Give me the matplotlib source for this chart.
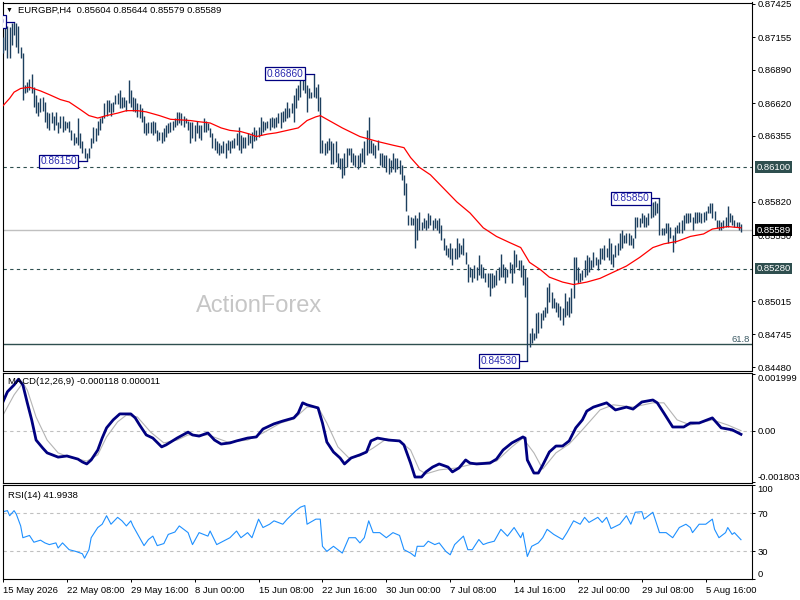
import matplotlib
matplotlib.use('Agg')
import matplotlib.pyplot as plt
import numpy as np

plt.rcParams['font.family'] = ['Liberation Sans', 'DejaVu Sans']

# ---- price bars (H4) ----
highs = [
    0.8716, 0.8723, 0.8725, 0.8724, 0.8727, 0.8728, 0.8727, 0.8725, 0.8708, 0.8703,
    0.8677, 0.8679, 0.8682, 0.8686, 0.8675, 0.8669, 0.8663, 0.8666, 0.8667, 0.8663,
    0.8655, 0.8654, 0.8655, 0.8652, 0.8655, 0.8647, 0.8652, 0.8652, 0.8648, 0.8647,
    0.8648, 0.8640, 0.8638, 0.8635, 0.8650, 0.8638, 0.8631, 0.8626, 0.8622, 0.8626,
    0.8634, 0.8643, 0.8642, 0.8648, 0.8650, 0.8652, 0.8662, 0.8665, 0.8665, 0.8662,
    0.8663, 0.8669, 0.8670, 0.8673, 0.8667, 0.8667, 0.8665, 0.8681, 0.8673, 0.8667,
    0.8666, 0.8662, 0.8661, 0.8658, 0.8652, 0.8646, 0.8647, 0.8647, 0.8648, 0.8647,
    0.8640, 0.8639, 0.8639, 0.8642, 0.8644, 0.8646, 0.8647, 0.8648, 0.8650, 0.8655,
    0.8655, 0.8654, 0.8652, 0.8650, 0.8648, 0.8647, 0.8647, 0.8644, 0.8648, 0.8644,
    0.8644, 0.8650, 0.8648, 0.8646, 0.8642, 0.8638, 0.8634, 0.8631, 0.8630, 0.8628,
    0.8631, 0.8630, 0.8632, 0.8631, 0.8632, 0.8634, 0.8638, 0.8643, 0.8636, 0.8635,
    0.8635, 0.8638, 0.8636, 0.8639, 0.8643, 0.8640, 0.8643, 0.8651, 0.8648, 0.8647,
    0.8648, 0.8650, 0.8651, 0.8650, 0.8651, 0.8654, 0.8655, 0.8656, 0.8658, 0.8663,
    0.8658, 0.8662, 0.8669, 0.8674, 0.8677, 0.8682, 0.8683, 0.8685, 0.8677, 0.8674,
    0.8671, 0.8686, 0.8675, 0.8678, 0.8667, 0.8632, 0.8630, 0.8631, 0.8634, 0.8631,
    0.8630, 0.8631, 0.8622, 0.8618, 0.8618, 0.8622, 0.8626, 0.8626, 0.8626, 0.8622,
    0.8620, 0.8620, 0.8622, 0.8626, 0.8631, 0.8640, 0.8651, 0.8632, 0.8630, 0.8628,
    0.8632, 0.8622, 0.8622, 0.8620, 0.8620, 0.8618, 0.8616, 0.8622, 0.8618, 0.8618,
    0.8616, 0.8612, 0.8604, 0.8597, 0.8571, 0.8570, 0.8569, 0.8571, 0.8569, 0.8574,
    0.8566, 0.8569, 0.8567, 0.8573, 0.8571, 0.8567, 0.8569, 0.8567, 0.8569, 0.8563,
    0.8553, 0.8547, 0.8545, 0.8549, 0.8545, 0.8545, 0.8553, 0.8549, 0.8547, 0.8553,
    0.8541, 0.8532, 0.8529, 0.8528, 0.8531, 0.8529, 0.8539, 0.8532, 0.8529, 0.8524,
    0.8524, 0.8524, 0.8524, 0.8523, 0.8527, 0.8529, 0.8540, 0.8532, 0.8529, 0.8528,
    0.8533, 0.8532, 0.8543, 0.8540, 0.8535, 0.8535, 0.8531, 0.8528, 0.8521, 0.8476,
    0.8480, 0.8476, 0.8492, 0.8493, 0.8492, 0.8494, 0.8497, 0.8513, 0.8516, 0.8509,
    0.8504, 0.8501, 0.8500, 0.8498, 0.8496, 0.8508, 0.8502, 0.8505, 0.8512, 0.8537,
    0.8537, 0.8529, 0.8524, 0.8527, 0.8535, 0.8539, 0.8537, 0.8535, 0.8541, 0.8537,
    0.8536, 0.8545, 0.8545, 0.8547, 0.8545, 0.8553, 0.8549, 0.8540, 0.8547, 0.8549,
    0.8557, 0.8559, 0.8555, 0.8557, 0.8557, 0.8555, 0.8553, 0.8570, 0.8570, 0.8569,
    0.8573, 0.8571, 0.8570, 0.8573, 0.8581, 0.8582, 0.8583, 0.8581, 0.8585, 0.8561,
    0.8561, 0.8565, 0.8565, 0.8562, 0.8555, 0.8562, 0.8563, 0.8566, 0.8567, 0.8571,
    0.8573, 0.8573, 0.8573, 0.8570, 0.8574, 0.8574, 0.8574, 0.8573, 0.8574, 0.8575,
    0.8579, 0.8581, 0.8581, 0.8575, 0.8567, 0.8567, 0.8566, 0.8567, 0.8570, 0.8579,
    0.8573, 0.8571, 0.8567, 0.8566, 0.8566, 0.85644,
]
lows = [
    0.8703, 0.8705, 0.8699, 0.8699, 0.8709, 0.8717, 0.8708, 0.8703, 0.8699, 0.8665,
    0.8670, 0.8671, 0.8673, 0.8670, 0.8659, 0.8654, 0.8652, 0.8655, 0.8656, 0.8647,
    0.8642, 0.8640, 0.8646, 0.8640, 0.8644, 0.8638, 0.8642, 0.8639, 0.8640, 0.8642,
    0.8639, 0.8632, 0.8628, 0.8630, 0.8628, 0.8626, 0.8622, 0.8618, 0.8615, 0.8618,
    0.8626, 0.8630, 0.8631, 0.8636, 0.8640, 0.8646, 0.8650, 0.8652, 0.8655, 0.8652,
    0.8655, 0.8661, 0.8661, 0.8658, 0.8658, 0.8659, 0.8656, 0.8662, 0.8659, 0.8656,
    0.8655, 0.8651, 0.8650, 0.8647, 0.8638, 0.8636, 0.8638, 0.8638, 0.8636, 0.8638,
    0.8631, 0.8632, 0.8630, 0.8631, 0.8635, 0.8638, 0.8639, 0.8640, 0.8643, 0.8644,
    0.8646, 0.8644, 0.8643, 0.8646, 0.8640, 0.8630, 0.8634, 0.8631, 0.8638, 0.8634,
    0.8632, 0.8639, 0.8639, 0.8640, 0.8635, 0.8626, 0.8624, 0.8622, 0.8620, 0.8622,
    0.8622, 0.8618, 0.8624, 0.8622, 0.8626, 0.8626, 0.8628, 0.8624, 0.8622, 0.8626,
    0.8626, 0.8628, 0.8630, 0.8626, 0.8631, 0.8632, 0.8635, 0.8636, 0.8639, 0.8640,
    0.8642, 0.8640, 0.8643, 0.8642, 0.8643, 0.8646, 0.8642, 0.8647, 0.8648, 0.8650,
    0.8651, 0.8654, 0.8647, 0.8658, 0.8665, 0.8667, 0.8673, 0.8670, 0.8655, 0.8666,
    0.8666, 0.8667, 0.8666, 0.8656, 0.8622, 0.8622, 0.8620, 0.8622, 0.8624, 0.8613,
    0.8613, 0.8614, 0.8610, 0.8609, 0.8601, 0.8604, 0.8610, 0.8620, 0.8614, 0.8612,
    0.8610, 0.8609, 0.8610, 0.8614, 0.8613, 0.8620, 0.8622, 0.8622, 0.8620, 0.8618,
    0.8624, 0.8612, 0.8610, 0.8610, 0.8606, 0.8605, 0.8606, 0.8609, 0.8606, 0.8609,
    0.8605, 0.8600, 0.8588, 0.8575, 0.8563, 0.8563, 0.8563, 0.8545, 0.8551, 0.8559,
    0.8559, 0.8561, 0.8559, 0.8561, 0.8563, 0.8559, 0.8561, 0.8559, 0.8557, 0.8551,
    0.8543, 0.8539, 0.8537, 0.8536, 0.8531, 0.8536, 0.8536, 0.8537, 0.8540, 0.8539,
    0.8532, 0.8517, 0.8521, 0.8517, 0.8520, 0.8519, 0.8523, 0.8520, 0.8520, 0.8517,
    0.8513, 0.8506, 0.8512, 0.8513, 0.8515, 0.8519, 0.8521, 0.8521, 0.8516, 0.8521,
    0.8524, 0.8516, 0.8524, 0.8529, 0.8527, 0.8521, 0.8515, 0.8505, 0.8453, 0.8464,
    0.8468, 0.8470, 0.8472, 0.8476, 0.8480, 0.8486, 0.8489, 0.8492, 0.8501, 0.8496,
    0.8496, 0.8493, 0.8489, 0.8486, 0.8482, 0.8489, 0.8490, 0.8489, 0.8492, 0.8504,
    0.8519, 0.8516, 0.8517, 0.8519, 0.8521, 0.8523, 0.8525, 0.8528, 0.8529, 0.8531,
    0.8527, 0.8532, 0.8536, 0.8535, 0.8537, 0.8535, 0.8532, 0.8529, 0.8537, 0.8539,
    0.8543, 0.8545, 0.8549, 0.8549, 0.8547, 0.8547, 0.8545, 0.8553, 0.8562, 0.8562,
    0.8565, 0.8562, 0.8562, 0.8563, 0.8569, 0.8570, 0.8571, 0.8573, 0.8555, 0.8555,
    0.8555, 0.8557, 0.8549, 0.8553, 0.8541, 0.8549, 0.8557, 0.8557, 0.8557, 0.8559,
    0.8565, 0.8565, 0.8566, 0.8559, 0.8565, 0.8565, 0.8566, 0.8565, 0.8566, 0.8567,
    0.8573, 0.8573, 0.8569, 0.8567, 0.8561, 0.8559, 0.8559, 0.8561, 0.8562, 0.8562,
    0.8566, 0.8563, 0.8562, 0.8562, 0.8559, 0.85579,
]

# moving average (red), sampled at bar numbers
ma_bar = [0, 3, 5, 8, 12, 17, 21, 26, 30, 35, 39, 43, 47, 52, 56, 61, 65, 71, 76, 85,
          89, 94, 99, 103, 108, 112, 115, 120, 124, 129, 134, 138, 142, 144, 148, 154,
          162, 170, 177, 182, 185, 189, 194, 200, 206, 212, 218, 224, 230, 235, 239,
          244, 248, 254, 259, 265, 271, 277, 283, 289, 295, 300, 306, 312, 318, 322,
          329, 335]
ma_val = [0.8660, 0.8666, 0.8671, 0.8674, 0.8675, 0.8672, 0.8669, 0.8665, 0.8663, 0.8657,
          0.8652, 0.8650, 0.8652, 0.8654, 0.8656, 0.8656, 0.8655, 0.8652, 0.8649, 0.8648,
          0.8647, 0.8646, 0.8642, 0.8640, 0.8639, 0.8637, 0.8635, 0.8637, 0.8638, 0.8640,
          0.8642, 0.8648, 0.8651, 0.8652, 0.8648, 0.8642, 0.8635, 0.8631, 0.8628, 0.8626,
          0.8618, 0.8610, 0.8604, 0.8593, 0.8582, 0.8573, 0.8561, 0.8554, 0.8549, 0.8545,
          0.8533, 0.8527, 0.8521, 0.8517, 0.8515, 0.8517, 0.8520, 0.8525, 0.8530, 0.8537,
          0.8545, 0.8548, 0.8550, 0.8554, 0.8556, 0.8560, 0.8562, 0.8561]

# swing labels: bar number and which end of the bar
swing_bars = [5, 38, 141, 238, 298]
swing_side = ['high', 'low', 'high', 'low', 'high']

level_dash = [0.86100, 0.85280]
last_price = 0.85589
fib_618 = 0.84665

# MACD(12,26,9)
macd_bar = [0, 2, 5, 7, 9, 11, 13, 15, 18, 20, 25, 29, 34, 36, 38, 40, 43, 45, 47, 50,
            53, 58, 60, 62, 65, 68, 72, 74, 79, 84, 86, 89, 93, 96, 99, 103, 106, 111,
            115, 118, 123, 127, 132, 134, 136, 138, 143, 145, 147, 150, 153, 155, 158,
            162, 165, 167, 170, 175, 180, 182, 185, 187, 190, 192, 195, 198, 202, 204,
            207, 210, 212, 215, 221, 224, 227, 231, 236, 237, 238, 241, 243, 245, 248,
            251, 254, 257, 260, 263, 265, 268, 274, 278, 283, 286, 290, 295, 297, 300,
            304, 309, 312, 316, 322, 326, 331, 335]
macd_val = [0.00103, 0.00138, 0.00162, 0.00182, 0.00162, 0.00099, 0.00039, -0.00032,
            -0.00060, -0.00077, -0.00092, -0.00088, -0.00099, -0.00109, -0.00116, -0.00102,
            -0.00067, -0.00025, 0.00011, 0.00039, 0.00060, 0.00060, 0.00046, 0.00021,
            -0.00014, -0.00025, -0.00056, -0.00049, -0.00025, -0.00004, -0.00014, -0.00018,
            -0.00007, -0.00032, -0.00046, -0.00042, -0.00035, -0.00025, -0.00021, 0.00007,
            0.00025, 0.00035, 0.00046, 0.00063, 0.00099, 0.00092, 0.00081, 0.00028,
            -0.00039, -0.00074, -0.00095, -0.00116, -0.00095, -0.00084, -0.00074, -0.00035,
            -0.00025, -0.00032, -0.00035, -0.00049, -0.00113, -0.00162, -0.00162, -0.00144,
            -0.00127, -0.00116, -0.00127, -0.00144, -0.00130, -0.00102, -0.00113, -0.00116,
            -0.00113, -0.00099, -0.00067, -0.00042, -0.00021, -0.00025, -0.00102, -0.00148,
            -0.00148, -0.00120, -0.00074, -0.00053, -0.00053, -0.00035, 0.00011, 0.00039,
            0.00070, 0.00084, 0.00099, 0.00074, 0.00084, 0.00077, 0.00102, 0.00109,
            0.00099, 0.00063, 0.00014, 0.00014, 0.00028, 0.00028, 0.00046, 0.00011,
            0.00004, -0.000118]
sig_bar = [0, 5, 9, 11, 15, 20, 25, 30, 38, 43, 47, 52, 56, 61, 67, 73, 79, 84, 93, 102,
           111, 118, 126, 132, 138, 143, 147, 152, 157, 162, 168, 174, 180, 185, 189, 192,
           198, 206, 215, 224, 231, 236, 241, 245, 251, 257, 263, 271, 277, 286, 295, 300,
           306, 312, 322, 329, 335]
sig_val = [0.00056, 0.00127, 0.00169, 0.00144, 0.00049, -0.00032, -0.00077, -0.00092,
           -0.00106, -0.00084, -0.00021, 0.00032, 0.00056, 0.00049, -0.00004, -0.00042,
           -0.00032, -0.00014, -0.00014, -0.00039, -0.00032, -0.00007, 0.00028, 0.00042,
           0.00084, 0.00084, 0.00028, -0.00056, -0.00095, -0.00088, -0.00060, -0.00028,
           -0.00035, -0.00067, -0.00137, -0.00151, -0.00137, -0.00130, -0.00113, -0.00106,
           -0.00056, -0.00025, -0.00077, -0.00134, -0.00077, -0.00046, 0.00004, 0.00074,
           0.00092, 0.00084, 0.00099, 0.00099, 0.00039, 0.00021, 0.00039, 0.00021, 0.000011]

# RSI(14)
rsi_bar = [0, 2, 3, 5, 6, 8, 9, 12, 14, 17, 19, 21, 24, 25, 27, 30, 33, 36, 37, 39,
           40, 43, 45, 47, 49, 52, 54, 56, 58, 59, 64, 66, 68, 70, 73, 75, 78, 80, 84,
           86, 89, 93, 94, 97, 100, 103, 106, 108, 111, 113, 116, 118, 121, 123, 127,
           129, 133, 135, 137, 138, 142, 144, 145, 147, 150, 152, 154, 157, 160, 162,
           164, 166, 168, 171, 174, 177, 180, 182, 185, 187, 188, 191, 193, 196, 198,
           201, 203, 205, 209, 211, 213, 216, 218, 220, 223, 226, 229, 232, 235, 236,
           238, 240, 243, 245, 247, 250, 254, 256, 259, 262, 264, 266, 270, 272, 274,
           276, 280, 283, 285, 287, 290, 291, 295, 296, 298, 301, 304, 307, 310, 312,
           313, 316, 319, 322, 323, 325, 328, 329, 331, 332, 335]
rsi_val = [71.7, 72.8, 67.4, 72.8, 69.2, 56.6, 44.1, 46.5, 39.3, 41.5, 38.6, 36.8, 38.6,
           33.2, 38.6, 31.4, 29.6, 27.1, 22.4, 31.4, 44.1, 54.9, 58.4, 67.4, 58.4, 65.7,
           62.0, 56.6, 62.0, 56.6, 35.7, 42.2, 45.8, 35.7, 37.9, 47.6, 50.1, 56.6, 49.5,
           36.8, 49.5, 45.8, 51.2, 36.8, 40.4, 44.1, 51.2, 44.1, 49.5, 44.1, 63.8, 54.9,
           58.4, 62.0, 58.4, 63.8, 72.8, 76.5, 78.2, 58.4, 63.8, 63.8, 35.0, 29.6, 35.0,
           31.4, 27.8, 44.1, 44.1, 38.6, 44.1, 62.0, 49.5, 49.5, 44.1, 49.5, 46.5, 31.4,
           27.8, 24.2, 35.0, 35.0, 40.4, 36.8, 38.6, 29.6, 26.0, 36.8, 45.8, 31.4, 31.4,
           42.2, 36.8, 38.6, 40.4, 53.0, 45.8, 54.9, 44.1, 49.5, 24.2, 35.0, 38.6, 44.1,
           53.0, 47.6, 42.2, 49.5, 62.0, 58.4, 65.7, 60.3, 65.7, 60.3, 65.7, 53.8, 58.4,
           67.4, 58.4, 71.1, 71.7, 63.8, 71.1, 63.8, 49.5, 49.5, 44.1, 54.9, 58.4, 54.9,
           49.5, 58.4, 58.4, 63.8, 53.0, 44.1, 49.5, 54.9, 47.6, 49.5, 41.9938]

# time axis
date_bars = [0, 29, 58, 87, 116, 145, 174, 203, 232, 261, 290, 319]
date_labels = ['15 May 2026', '22 May 08:00', '29 May 16:00', '8 Jun 00:00', '15 Jun 08:00',
               '22 Jun 16:00', '30 Jun 00:00', '7 Jul 08:00', '14 Jul 16:00', '22 Jul 00:00',
               '29 Jul 08:00', '5 Aug 16:00']
price_ticks = [0.87425, 0.87155, 0.86890, 0.86620, 0.86355, 0.85820, 0.85550,
               0.85015, 0.84745, 0.84480]

BAR = '#1c3f5e'
NAVY = '#000080'
SLATE = '#2f4f4f'
SILVER = '#c0c0c0'
FS = 6.8

W, H = 800, 600


def rect(l, t, r, b):
    return [l / W, 1 - b / H, (r - l) / W, (b - t) / H]


fig = plt.figure(figsize=(8, 6), dpi=100)
ax_p = fig.add_axes(rect(2.5, 2.5, 752, 370.5))
ax_m = fig.add_axes(rect(2.5, 372.7, 752, 482.7), sharex=ax_p)
ax_r = fig.add_axes(rect(2.5, 485, 752, 579.3), sharex=ax_p)

for ax in (ax_p, ax_m, ax_r):
    for s in ax.spines.values():
        s.set_linewidth(0.8)
        s.set_color('black')
    ax.yaxis.tick_right()
    ax.tick_params(axis='y', direction='out', length=2.2, pad=1.5, labelsize=FS,
                   width=0.7)
    ax.tick_params(axis='x', bottom=False, labelbottom=False)

bars = np.arange(len(highs))
ax_p.set_xlim(-0.25, 340)

# ---- price panel ----
ax_p.vlines(bars, lows, highs, color=BAR, lw=1.0, zorder=3)
ax_p.plot(ma_bar, ma_val, color='#ff0000', lw=0.9, zorder=4)
for lv in level_dash:
    ax_p.axhline(lv, color=SLATE, lw=0.8, ls=(0, (3, 3)), zorder=2)
ax_p.axhline(last_price, color=SILVER, lw=1.0, zorder=1)
ax_p.axhline(fib_618, color=SLATE, lw=1.0, zorder=2)
ax_p.set_ylim(0.84453, 0.87437)
ax_p.set_yticks(price_ticks)
ax_p.set_yticklabels([f'{v:.5f}' for v in price_ticks])

ax_p.text(0.997, fib_618, '61.8', transform=ax_p.get_yaxis_transform(), ha='right',
          va='bottom', fontsize=FS, color='#3c5a64')

ax_p.text(0.342, 0.175, 'ActionForex', transform=ax_p.transAxes, ha='center', va='center',
          fontsize=17, color='#c6c6c6', zorder=0)

for b, side in zip(swing_bars, swing_side):
    val = highs[b] if side == 'high' else lows[b]
    ax_p.plot([b - 4.5, b], [val, val], color=NAVY, lw=0.9, zorder=5)
    ax_p.text(b - 4.5, val, f'{val:.5f}', ha='right', va='center', fontsize=7.3,
              color='#2b2bb0', zorder=6, clip_on=True,
              bbox=dict(boxstyle='square,pad=0.15', fc='white', ec=NAVY, lw=0.9))

# boxed prices on the right scale
for lv, fc in [(level_dash[0], SLATE), (level_dash[1], SLATE), (last_price, 'black')]:
    ax_p.annotate(f'{lv:.5f}', xy=(1, lv), xycoords=('axes fraction', 'data'),
                  xytext=(3.2, 0), textcoords='offset points', ha='left', va='center',
                  fontsize=FS, color='white', annotation_clip=False, zorder=10,
                  bbox=dict(boxstyle='square,pad=0.15', fc=fc, ec='none'))

# ---- MACD panel ----
ax_m.axhline(0, color=SILVER, lw=0.8, ls=(0, (3, 3)))
ax_m.plot(sig_bar, sig_val, color='#b4b4b4', lw=0.8)
ax_m.plot(macd_bar, macd_val, color=NAVY, lw=2.0)
ax_m.set_ylim(-0.00182, 0.00205)
macd_ticks = [0.001999, 0.0, -0.001803]
ax_m.set_yticks(macd_ticks)
ax_m.set_yticklabels(['0.001999', '0.00', '-0.001803'])
lab = ax_m.get_yticklabels()
lab[0].set_va('top')
lab[2].set_va('bottom')

# ---- RSI panel ----
for lv in (70, 30):
    ax_r.axhline(lv, color=SILVER, lw=0.8, ls=(0, (3, 3)))
ax_r.plot(rsi_bar, rsi_val, color='#1e90ff', lw=0.8)
ax_r.set_ylim(0, 100)
ax_r.set_yticks([100, 70, 30, 0])
ax_r.set_yticklabels(['100', '70', '30', '0'])
lab = ax_r.get_yticklabels()
lab[0].set_va('top')
lab[3].set_va('bottom')

ax_r.tick_params(axis='x', bottom=True, labelbottom=True, direction='out', length=2.5,
                 pad=2.5, labelsize=FS, width=0.7)
ax_r.set_xticks(date_bars)
ax_r.set_xticklabels(date_labels)
for t in ax_r.get_xticklabels():
    t.set_ha('left')

# ---- header texts ----
fig.text(6 / W, 1 - 10 / H, '\u25bc', fontsize=5, va='center', ha='left')
fig.text(18 / W, 1 - 10 / H, 'EURGBP,H4  0.85604 0.85644 0.85579 0.85589', fontsize=FS,
         va='center', ha='left')
fig.text(8 / W, 1 - 381 / H, 'MACD(12,26,9) -0.000118 0.000011', fontsize=FS,
         va='center', ha='left')
fig.text(8 / W, 1 - 495 / H, 'RSI(14) 41.9938', fontsize=FS, va='center', ha='left')

fig.savefig('out.png', dpi=100, facecolor='white')
